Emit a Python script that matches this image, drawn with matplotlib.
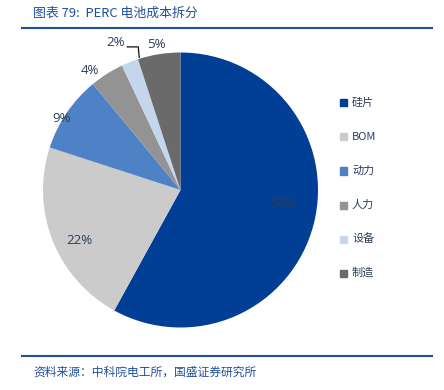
import matplotlib
matplotlib.use("Agg")
import matplotlib.pyplot as plt
import numpy as np

categories = ["硅片", "BOM", "动力", "人力", "设备", "制造"]
values = [58, 22, 9, 4, 2, 5]
labels = ["58%", "22%", "9%", "4%", "2%", "5%"]
colors = ["#003f95", "#cbcbcb", "#4f81c6", "#939393", "#c4d5ec", "#6a6a6a"]
label_colors = ["#2c3e5c", "#2c3e5c", "#2c3e5c", "#2c3e5c", "#2c3e5c", "#2c3e5c"]
# label radius (fraction of pie radius) and angular tweak (deg)
label_r = [0.75, 0.82, 1.01, 1.09, 1.17, 1.07]
label_dang = [7.0, 5.0, 3.0, 5.0, 2.3, 0.5]

cjk = ["Noto Sans CJK SC", "DejaVu Sans"]
num_font = ["Open Sans", "DejaVu Sans"]

W, H = 444, 390
fig = plt.figure(figsize=(W/100, H/100), dpi=100)

cx, cy, R = 180.5, 190.0, 137.5
ax = fig.add_axes([(cx-R)/W, (H-cy-R)/H, 2*R/W, 2*R/H])
wedges, _ = ax.pie(values, colors=colors, startangle=90, counterclock=False,
                   radius=1.0, wedgeprops=dict(linewidth=0))
ax.set_xlim(-1, 1)
ax.set_ylim(-1, 1)
ax.set_aspect("equal")
ax.axis("off")

for i, w in enumerate(wedges):
    mid = (w.theta1 + w.theta2) / 2 + label_dang[i]
    r = label_r[i]
    x, y = r*np.cos(np.radians(mid)), r*np.sin(np.radians(mid))
    ax.text(x, y, labels[i], ha="center", va="center", fontsize=9.5,
            color=label_colors[i], family=num_font)
    if labels[i] == "2%":
        m = np.radians((w.theta1 + w.theta2) / 2 - 4.3)
        ex, ey = 1.01*np.cos(m), 1.01*np.sin(m)
        ax.plot([x+0.087, x+0.167, ex], [y-0.029, y-0.029, ey],
                color="#111111", lw=0.9, clip_on=False)

# legend
leg_y = [103, 137, 171, 205, 239, 273]
for i, c in enumerate(categories):
    yy = 1 - leg_y[i]/H
    fig.patches.append(plt.Rectangle((340/W, yy - 3.5/H), 7/W, 7/H,
                                     transform=fig.transFigure, color=colors[i]))
    fig.text(352/W, yy, c, ha="left", va="center", fontsize=8,
             color="#2c3e5c", family=cjk)

# title and source
fig.text(33/W, 1-13/H, "图表 79:  PERC 电池成本拆分", ha="left", va="center",
         fontsize=9.3, color="#1f4e9a", family=cjk, style="italic")
fig.add_artist(plt.Line2D([22/W, 432/W], [1-28/H, 1-28/H], color="#1f4e9a", lw=1.5))
fig.add_artist(plt.Line2D([22/W, 432/W], [1-356/H, 1-356/H], color="#1f4e9a", lw=1.5))
fig.text(33/W, 1-372/H, "资料来源：中科院电工所，国盛证券研究所", ha="left", va="center",
         fontsize=8.5, color="#1f4e9a", family=cjk, style="italic")

fig.savefig("out.png", dpi=100)
